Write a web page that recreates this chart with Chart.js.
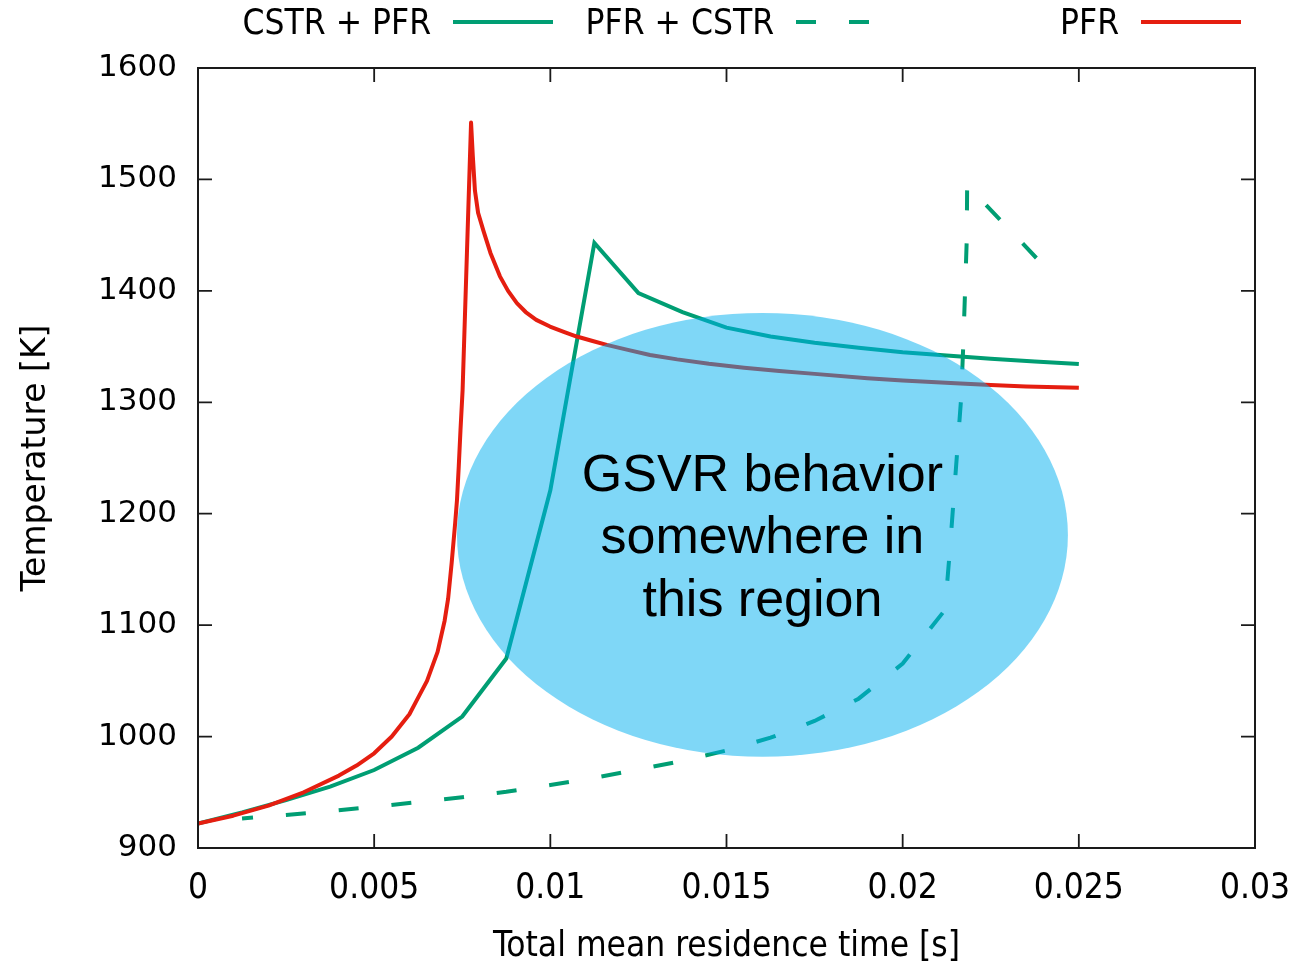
<!DOCTYPE html>
<html>
<head>
<meta charset="utf-8">
<script src="https://cdn.jsdelivr.net/npm/chart.js@4.4.1/dist/chart.umd.min.js"></script>
<style>
html,body{margin:0;padding:0;background:#fff;overflow:hidden}
#wrap{width:1315px;height:961px;position:relative}
</style>
</head>
<body>
<div id="wrap"><canvas id="c" width="1315" height="961"></canvas></div>
<script>
// ---------- data ----------
const xTickValues = [0, 0.005, 0.01, 0.015, 0.02, 0.025, 0.03];
const xTickLabels = ['0', '0.005', '0.01', '0.015', '0.02', '0.025', '0.03'];
const yTickValues = [900, 1000, 1100, 1200, 1300, 1400, 1500, 1600];
const yTickLabels = ['900', '1000', '1100', '1200', '1300', '1400', '1500', '1600'];

const seriesLabels = ['CSTR + PFR', 'PFR + CSTR', 'PFR'];

// CSTR + PFR (solid green)
const cstrPfrTime = [0, 0.00125, 0.0025, 0.00375, 0.005, 0.00625, 0.0075, 0.00875, 0.01, 0.01125,
  0.0125, 0.01375, 0.015, 0.01625, 0.0175, 0.01875, 0.02, 0.02125, 0.0225, 0.02375, 0.025];
const cstrPfrTemp = [922, 932, 943, 955, 970, 990, 1018, 1070, 1221, 1443,
  1398, 1381, 1367, 1359, 1353.5, 1349, 1345, 1342, 1339, 1336.5, 1334.3];

// PFR + CSTR (dashed green)
const pfrCstrTime = [0.00125, 0.0025, 0.00375, 0.005, 0.00625, 0.0075, 0.00875, 0.01, 0.01125, 0.0125,
  0.01375, 0.015, 0.01625, 0.0175, 0.01875, 0.02, 0.0212, 0.02134, 0.02166, 0.02172,
  0.02177, 0.02182, 0.02183, 0.0239];
const pfrCstrTemp = [926.5, 929.7, 933, 937, 941.2, 945.5, 950.5, 956.5, 963, 970.5,
  978.2, 987.5, 999, 1014, 1034, 1065.5, 1113.6, 1167.4, 1303.8, 1351.4,
  1399, 1447, 1495, 1426];

// PFR (solid red)
const pfrTime = [0, 0.001, 0.002, 0.003, 0.004, 0.0045, 0.005, 0.0055, 0.006, 0.0062,
  0.0065, 0.0068, 0.007, 0.0071, 0.0072, 0.0073, 0.00735, 0.0074, 0.00745, 0.00751,
  0.00775, 0.0078, 0.00786, 0.00795, 0.0081, 0.0083, 0.00857, 0.0088, 0.00905, 0.0093,
  0.0096, 0.00999, 0.0104, 0.01075, 0.0112, 0.0116, 0.0122, 0.01283, 0.0136, 0.0145,
  0.0155, 0.0165, 0.0175, 0.019, 0.02, 0.0215, 0.0225, 0.0235, 0.025];
const pfrTemp = [922, 929, 938, 950, 965, 974, 985, 1000, 1020, 1032,
  1050, 1076, 1104, 1124, 1156, 1192, 1212, 1242, 1275, 1311,
  1551, 1521, 1490, 1470, 1454, 1434, 1413, 1400, 1389, 1381,
  1374, 1368, 1363, 1359, 1355, 1351.5, 1347, 1342.5, 1338.5, 1334.5,
  1331, 1328, 1325.5, 1321.5, 1319.5, 1317, 1315.5, 1314.2, 1313];

// highlighted region (data units) and its caption
const regionCenterTime = 0.01602;
const regionCenterTemp = 1181;
const regionHalfTime = 0.00867;
const regionHalfTemp = 199.2;
const regionCaption = ['GSVR behavior', 'somewhere in', 'this region'];

// ---------- helpers ----------
const toPoints = (xs, ys) => xs.map((v, i) => ({x: v, y: ys[i]}));
const GREEN = '#009e73';
const RED = '#e51e10';
const COND = "'DejaVu Sans Condensed', 'DejaVu Sans', sans-serif";
const LW = 4;

const framePlugin = {
  id: 'frameTicksRegion',
  afterDatasetsDraw(chart) {
    const {ctx, chartArea: a, scales: {x, y}} = chart;
    ctx.save();
    ctx.strokeStyle = '#1a1a1a';
    ctx.lineWidth = 2;
    ctx.strokeRect(a.left, a.top, a.right - a.left, a.bottom - a.top);
    const tl = 14;
    ctx.lineWidth = 1.8;
    ctx.beginPath();
    x.ticks.forEach(t => {
      const px = x.getPixelForValue(t.value);
      ctx.moveTo(px, a.bottom); ctx.lineTo(px, a.bottom - tl);
      ctx.moveTo(px, a.top); ctx.lineTo(px, a.top + tl);
    });
    y.ticks.forEach(t => {
      const py = y.getPixelForValue(t.value);
      ctx.moveTo(a.left, py); ctx.lineTo(a.left + tl, py);
      ctx.moveTo(a.right, py); ctx.lineTo(a.right - tl, py);
    });
    ctx.stroke();
    const cx = x.getPixelForValue(regionCenterTime);
    const cy = y.getPixelForValue(regionCenterTemp);
    const rx = x.getPixelForValue(regionCenterTime + regionHalfTime) - cx;
    const ry = cy - y.getPixelForValue(regionCenterTemp + regionHalfTemp);
    ctx.fillStyle = 'rgba(0,176,240,0.5)';
    ctx.beginPath();
    ctx.ellipse(cx, cy, rx, ry, 0, 0, Math.PI * 2);
    ctx.fill();
    ctx.fillStyle = '#000';
    ctx.font = "52px 'Liberation Sans', Arial, sans-serif";
    ctx.textAlign = 'center';
    ctx.textBaseline = 'alphabetic';
    regionCaption.forEach((line, i) => {
      ctx.fillText(line, cx, cy - 44 + i * 62.5);
    });
    ctx.restore();
  }
};

const legendPlugin = {
  id: 'gnuLegend',
  afterDraw(chart) {
    const {ctx} = chart;
    const textRight = [431, 774, 1119];
    const yLine = 22;
    ctx.save();
    ctx.font = "35px " + COND;
    ctx.textAlign = 'right';
    ctx.textBaseline = 'middle';
    chart.data.datasets.forEach((ds, i) => {
      ctx.fillStyle = '#000';
      ctx.fillText(ds.label, textRight[i], yLine + 3);
      ctx.strokeStyle = ds.borderColor;
      ctx.lineWidth = ds.borderWidth;
      ctx.setLineDash(ds.borderDash || []);
      ctx.lineDashOffset = 0;
      ctx.beginPath();
      ctx.moveTo(textRight[i] + 22, yLine);
      ctx.lineTo(textRight[i] + 122, yLine);
      ctx.stroke();
    });
    ctx.restore();
  }
};

new Chart(document.getElementById('c'), {
  type: 'line',
  data: {
    datasets: [
      {label: seriesLabels[0], data: toPoints(cstrPfrTime, cstrPfrTemp), borderColor: GREEN,
       borderWidth: LW, pointRadius: 0, tension: 0, fill: false, order: 2},
      {label: seriesLabels[1], data: toPoints(pfrCstrTime, pfrCstrTemp), borderColor: GREEN,
       borderWidth: LW, borderDash: [20, 33], borderDashOffset: 9, pointRadius: 0, tension: 0, fill: false, order: 1},
      {label: seriesLabels[2], data: toPoints(pfrTime, pfrTemp), borderColor: RED,
       borderWidth: LW, pointRadius: 0, tension: 0, borderJoinStyle: 'round', fill: false, order: 0}
    ]
  },
  options: {
    responsive: false,
    animation: false,
    devicePixelRatio: 1,
    layout: {padding: {left: 0, right: 60, top: 68, bottom: 0}},
    plugins: {legend: {display: false}, tooltip: {enabled: false}},
    scales: {
      x: {
        type: 'linear', min: 0, max: 0.03,
        afterFit: s => { s.height = 113; },
        afterBuildTicks: s => { s.ticks = xTickValues.map(v => ({value: v})); },
        grid: {display: false, drawTicks: false},
        border: {display: false},
        ticks: {
          autoSkip: false, maxRotation: 0, padding: 23, color: '#000',
          font: {family: COND, size: 35, lineHeight: 1},
          callback: (v) => { const i = xTickValues.findIndex(t => Math.abs(t - v) < 1e-9); return i >= 0 ? xTickLabels[i] : ''; }
        },
        title: {display: true, text: 'Total mean residence time [s]', color: '#000',
          font: {family: COND, size: 35, lineHeight: 0.8}, padding: {top: 0, bottom: 0}}
      },
      y: {
        type: 'linear', min: 900, max: 1600,
        afterFit: s => { s.width = 198; },
        afterBuildTicks: s => { s.ticks = yTickValues.map(v => ({value: v})); },
        grid: {display: false, drawTicks: false},
        border: {display: false},
        ticks: {
          autoSkip: false, padding: 21, color: '#000',
          font: {family: "'DejaVu Sans', sans-serif", size: 31, lineHeight: 1},
          callback: (v) => { const i = yTickValues.indexOf(v); return i >= 0 ? yTickLabels[i] : ''; }
        },
        title: {display: true, text: 'Temperature [K]', color: '#000',
          font: {family: "'DejaVu Sans', sans-serif", size: 33, lineHeight: 1}, padding: {top: 20, bottom: 0}}
      }
    }
  },
  plugins: [framePlugin, legendPlugin]
});
</script>
</body>
</html>
